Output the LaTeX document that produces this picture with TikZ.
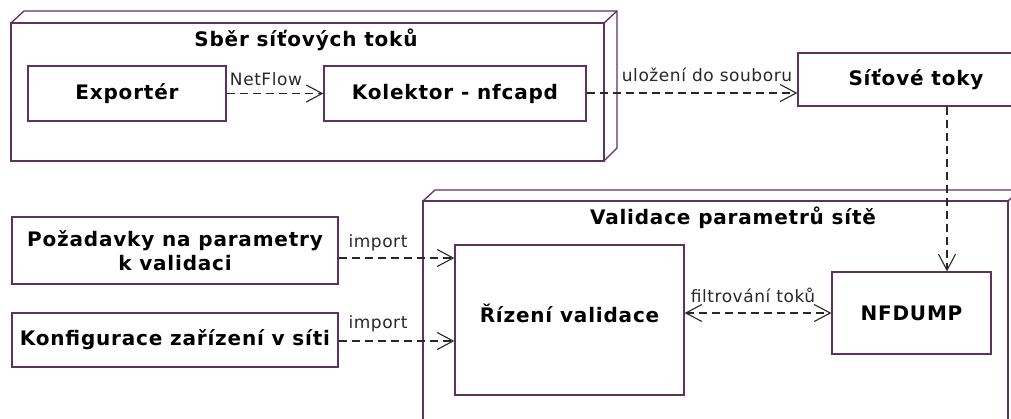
\documentclass[tikz,border=0pt]{standalone}
\usepackage{fontspec}
\setmainfont{DejaVu Sans}[LetterSpace=3.3, BoldFeatures={LetterSpace=4}]
\usetikzlibrary{arrows.meta}
\definecolor{umlline}{RGB}{96,48,98}
\definecolor{deptext}{RGB}{40,40,40}
\tikzset{
  nodebox/.style={draw=umlline, line width=1.3pt, fill=white},
  comp/.style={draw=umlline, line width=1.3pt, fill=white, rectangle, inner sep=0pt,
    font=\fontsize{20}{24}\selectfont\bfseries, align=center},
  title/.style={font=\fontsize{20}{24}\selectfont\bfseries, inner sep=0pt},
  deplabel/.style={font=\fontsize{17}{20}\selectfont, text=deptext, inner sep=0pt},
  dep/.style={draw=deptext, line width=1.1pt, dash pattern=on 8pt off 5pt,
    -{Straight Barb[length=16pt,width=17pt,line width=1.1pt]}},
  bidep/.style={draw=deptext, line width=1.1pt, dash pattern=on 8pt off 5pt,
    {Straight Barb[length=16pt,width=17pt,line width=1.1pt]}-{Straight Barb[length=16pt,width=17pt,line width=1.1pt]}},
}
\begin{document}
\begin{tikzpicture}[x=1pt, y=-1pt]
\fill[white] (0,0) rectangle (1011,418);
\clip (0,0) rectangle (1011,418);

% deployment node: network flow collection
\draw[nodebox] (11,23) -- (24,11) -- (617,11) -- (617,148) -- (604,161) -- cycle;
\draw[nodebox] (11,23) rectangle (604,161);
\draw[draw=umlline, line width=1.3pt] (604,23) -- (617,11);
\node[title] (t1) at (306,40) {Sběr síťových toků};

% deployment node: network parameter validation
\draw[nodebox] (423,201) -- (435,190) -- (1030,190) -- (1030,420) -- (1008,440) -- (423,440) -- cycle;
\draw[nodebox] (423,201) rectangle (1008,440);
\draw[draw=umlline, line width=1.3pt] (1008,201) -- (1020,190);
\node[title] (t2) at (733,218) {Validace parametrů sítě};

% components
\node[comp, minimum width=198pt, minimum height=55pt] (exp) at (127,93.5) {Exportér};
\node[comp, minimum width=262pt, minimum height=55pt] (kol) at (455,93.5) {Kolektor - nfcapd};
\node[comp, minimum width=236pt, minimum height=53pt] (sit) at (916,79.5) {Síťové toky};
\node[comp, minimum width=326pt, minimum height=67pt] (poz) at (175,250.5)
  {Požadavky na parametry\\k validaci};
\node[comp, minimum width=326pt, minimum height=54pt] (konf) at (175,340)
  {Konfigurace zařízení v síti};
\node[comp, minimum width=229pt, minimum height=150pt] (riz) at (569.5,320) {};
\node[title] (rizt) at (569.5,313) {Řízení validace};
\node[comp, minimum width=159pt, minimum height=82pt] (nfd) at (911.5,313) {NFDUMP};

% helper coordinates for connector positions
\coordinate (ya) at (0,258);
\coordinate (yb) at (0,341);
\coordinate (yc) at (0,93);
\coordinate (vx) at (947,0);

% dependencies
\draw[dep] (exp.east) -- (kol.west);
\node[deplabel] (l1) at (266,79) {NetFlow};
\draw[dep] (kol.east |- yc) -- (sit.west |- yc);
\node[deplabel] (l2) at (707,75) {uložení do souboru};
\draw[dep] (vx |- sit.south) -- (vx |- nfd.north);
\draw[dep] (poz.east |- ya) -- (riz.west |- ya);
\node[deplabel] (l3) at (378,243) {import};
\draw[dep] (konf.east |- yb) -- (riz.west |- yb);
\node[deplabel] (l4) at (378,324) {import};
\draw[bidep] (riz.east |- nfd.west) -- (nfd.west);
\node[deplabel] (l5) at (753,295) {filtrování toků};
\end{tikzpicture}
\end{document}
